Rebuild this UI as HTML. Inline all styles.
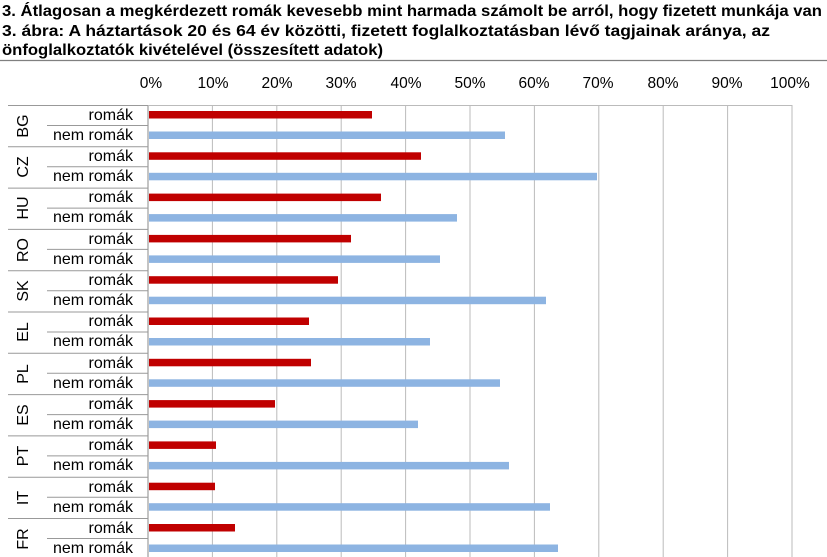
<!DOCTYPE html>
<html><head><meta charset="utf-8"><style>
body{margin:0;background:#fff;}
svg{display:block;font-family:"Liberation Sans",sans-serif;}
.t{font-weight:bold;font-size:16px;fill:#000;}
.k{font-size:15.5px;fill:#000;}
</style></head><body>
<svg id="s" width="827" height="557" viewBox="0 0 827 557">
<text class="t" x="2" y="16" textLength="820" lengthAdjust="spacingAndGlyphs">3. Átlagosan a megkérdezett romák kevesebb mint harmada számolt be arról, hogy fizetett munkája van</text>
<text class="t" x="2" y="36" textLength="768" lengthAdjust="spacingAndGlyphs">3. ábra: A háztartások 20 és 64 év közötti, fizetett foglalkoztatásban lévő tagjainak aránya, az</text>
<text class="t" x="2" y="55" textLength="381" lengthAdjust="spacingAndGlyphs">önfoglalkoztatók kivételével (összesített adatok)</text>
<line x1="0" y1="60.5" x2="827" y2="60.5" stroke="#808080" stroke-width="1.2"/>
<g class="k" text-anchor="middle">
<text x="151" y="88">0%</text><text x="213" y="88">10%</text><text x="277" y="88">20%</text><text x="341" y="88">30%</text><text x="406" y="88">40%</text><text x="470" y="88">50%</text><text x="534" y="88">60%</text><text x="598" y="88">70%</text><text x="663" y="88">80%</text><text x="727" y="88">90%</text><text x="790" y="88">100%</text>
</g>
<g id="g"></g>
</svg>
<script>
var ns="http://www.w3.org/2000/svg",g=document.getElementById("g");
function el(t,a,p){var e=document.createElementNS(ns,t);for(var k in a)e.setAttribute(k,a[k]);(p||g).appendChild(e);return e;}
var x0=148,sc=6.44;
for(var i=0;i<=10;i++){var x=x0+i*sc*10;el("line",{x1:x,y1:105,x2:x,y2:557,stroke:i==0?"#888":"#bbb","stroke-width":1});}
el("line",{x1:148,y1:105.5,x2:792,y2:105.5,stroke:"#bbb"});
var r=[372,421,381,351,338,309,311,275,216,215,235];
var n=[505,597,457,440,546,430,500,418,509,550,558];
for(var i=0;i<11;i++){var t=105+i*41.3;
el("line",{x1:8,y1:t+.5,x2:148,y2:t+.5,stroke:"#999"});
el("line",{x1:47,y1:t+20.5,x2:148,y2:t+20.5,stroke:"#999"});
el("rect",{x:149,y:t+6,width:r[i]-149,height:7.5,fill:"#c00000"});
el("rect",{x:149,y:t+26.5,width:n[i]-149,height:7.5,fill:"#8db4e2"});
}
</script>
<svg width="827" height="557" style="position:absolute;left:0;top:0" font-family="Liberation Sans, sans-serif" font-size="16">
<g text-anchor="end">
<text x="133" y="120">romák</text><text x="133" y="140">nem romák</text>
<text x="133" y="161">romák</text><text x="133" y="181">nem romák</text>
<text x="133" y="202">romák</text><text x="133" y="222">nem romák</text>
<text x="133" y="244">romák</text><text x="133" y="264">nem romák</text>
<text x="133" y="285">romák</text><text x="133" y="305">nem romák</text>
<text x="133" y="326">romák</text><text x="133" y="346">nem romák</text>
<text x="133" y="368">romák</text><text x="133" y="388">nem romák</text>
<text x="133" y="409">romák</text><text x="133" y="429">nem romák</text>
<text x="133" y="450">romák</text><text x="133" y="470">nem romák</text>
<text x="133" y="492">romák</text><text x="133" y="512">nem romák</text>
<text x="133" y="533">romák</text><text x="133" y="553">nem romák</text>
</g>
<g text-anchor="middle">
<text transform="translate(28,126) rotate(-90)">BG</text>
<text transform="translate(28,167) rotate(-90)">CZ</text>
<text transform="translate(28,208) rotate(-90)">HU</text>
<text transform="translate(28,250) rotate(-90)">RO</text>
<text transform="translate(28,291) rotate(-90)">SK</text>
<text transform="translate(28,332) rotate(-90)">EL</text>
<text transform="translate(28,374) rotate(-90)">PL</text>
<text transform="translate(28,415) rotate(-90)">ES</text>
<text transform="translate(28,456) rotate(-90)">PT</text>
<text transform="translate(28,498) rotate(-90)">IT</text>
<text transform="translate(28,539) rotate(-90)">FR</text>
</g>
</svg>
</body></html>
